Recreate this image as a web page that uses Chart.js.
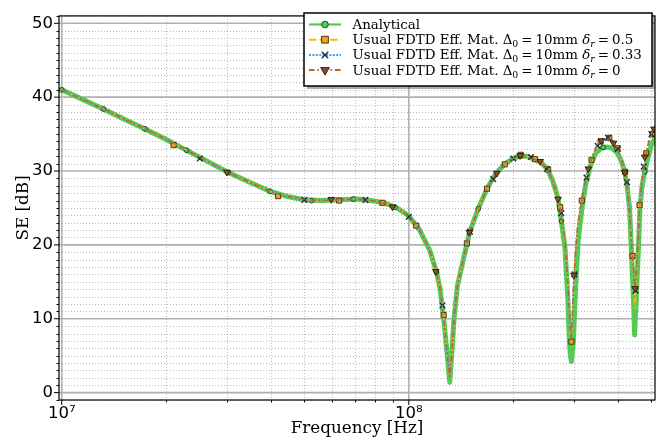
<!DOCTYPE html>
<html>
<head>
<meta charset="utf-8">
<script src="https://cdn.jsdelivr.net/npm/chart.js@4.4.0/dist/chart.umd.min.js"></script>
<style>
    html, body { margin: 0; padding: 0; background: #fff; }
    #wrap { width: 672px; height: 442px; }
</style>
</head>
<body>
<div id="wrap"><canvas id="se-chart" width="672" height="442"></canvas></div>
<script>
// Frequency grid (Hz) for the continuous curves
const freq = [
    1.000e7, 1.148e7, 1.318e7, 1.514e7, 1.738e7, 1.995e7, 2.291e7, 2.630e7, 3.020e7, 3.467e7,
    3.981e7, 4.467e7, 5.012e7, 5.623e7, 6.310e7, 7.079e7, 7.943e7, 8.710e7, 9.333e7, 1.000e8,
    1.072e8, 1.148e8, 1.202e8, 1.230e8, 1.259e8, 1.288e8, 1.312e8, 1.330e8, 1.349e8, 1.380e8,
    1.429e8, 1.496e8, 1.585e8, 1.679e8, 1.778e8, 1.884e8, 1.995e8, 2.089e8, 2.188e8, 2.291e8,
    2.399e8, 2.512e8, 2.600e8, 2.692e8, 2.754e8, 2.818e8, 2.871e8, 2.901e8, 2.921e8, 2.941e8,
    2.979e8, 3.020e8, 3.073e8, 3.162e8, 3.236e8, 3.350e8, 3.467e8, 3.589e8, 3.715e8, 3.846e8,
    3.981e8, 4.093e8, 4.188e8, 4.246e8, 4.325e8, 4.381e8, 4.440e8, 4.472e8, 4.487e8, 4.519e8,
    4.581e8, 4.634e8, 4.699e8, 4.786e8, 4.898e8, 4.989e8, 5.129e8
];

// SE [dB] on that grid
const seAnalytical = [
    41.0, 39.7, 38.4, 37.0, 35.7, 34.3, 32.8, 31.3, 29.8, 28.5,
    27.25, 26.55, 26.1, 26.0, 26.1, 26.2, 25.95, 25.5, 24.9, 23.9,
    22.1, 19.3, 16.3, 14.1, 10.2, 5.5, 1.4, 5.3, 9.9, 14.4,
    17.6, 21.7, 24.9, 27.6, 29.6, 30.9, 31.7, 32.0, 32.0, 31.6,
    31.2, 30.2, 28.6, 26.3, 23.0, 19.6, 12.8, 7.0, 5.0, 4.2,
    6.9, 13.8, 20.5, 25.3, 28.3, 31.0, 32.5, 33.1, 33.25, 33.1,
    32.5, 31.4, 29.9, 28.3, 25.0, 19.0, 12.4, 7.8, 9.5, 12.4,
    19.0, 25.0, 28.0, 29.9, 32.0, 33.4, 34.6
];
const seFdtd05 = [
    41.0, 39.7, 38.4, 37.0, 35.7, 34.3, 32.8, 31.3, 29.8, 28.5,
    27.25, 26.55, 26.1, 26.0, 26.1, 26.2, 25.95, 25.5, 24.9, 23.9,
    22.1, 19.3, 16.3, 14.1, 10.2, 5.5, 2.2, 5.3, 9.9, 14.4,
    17.6, 21.7, 24.9, 27.6, 29.6, 30.9, 31.7, 32.1, 32.0, 31.6,
    31.2, 30.2, 28.6, 26.3, 23.8, 20.5, 15.0, 10.5, 7.8, 6.6,
    13.8, 18.8, 23.0, 26.6, 28.9, 31.5, 33.2, 34.2, 34.5, 34.2,
    33.2, 31.6, 30.0, 28.4, 24.2, 20.2, 15.8, 12.2, 11.4, 14.5,
    21.0, 26.0, 28.8, 31.4, 33.7, 34.9, 36.2
];
const seFdtd033 = [
    41.0, 39.7, 38.4, 37.0, 35.7, 34.3, 32.8, 31.3, 29.8, 28.5,
    27.25, 26.55, 26.1, 26.0, 26.1, 26.2, 25.95, 25.5, 24.9, 23.9,
    22.1, 19.3, 16.3, 14.1, 10.2, 5.5, 2.2, 5.3, 9.9, 14.4,
    17.6, 21.7, 24.9, 27.6, 29.6, 30.9, 31.7, 32.1, 32.0, 31.6,
    31.2, 30.2, 28.6, 26.3, 23.8, 20.5, 15.2, 10.8, 8.4, 7.2,
    14.0, 18.8, 23.0, 26.6, 28.9, 31.5, 33.2, 34.2, 34.4, 34.2,
    33.2, 31.6, 30.0, 28.4, 24.4, 20.0, 16.5, 14.2, 13.8, 15.6,
    21.0, 26.0, 28.8, 31.4, 33.7, 34.9, 36.1
];
const seFdtd0 = [
    41.0, 39.7, 38.4, 37.0, 35.7, 34.3, 32.8, 31.3, 29.8, 28.5,
    27.25, 26.55, 26.1, 26.0, 26.1, 26.2, 25.95, 25.5, 24.9, 23.9,
    22.1, 19.3, 16.3, 14.1, 10.2, 5.5, 2.2, 5.3, 9.9, 14.4,
    17.6, 21.7, 24.9, 27.6, 29.6, 30.9, 31.7, 32.1, 32.0, 31.6,
    31.2, 30.2, 28.6, 26.3, 23.8, 20.5, 15.2, 10.8, 8.4, 7.3,
    14.0, 18.8, 23.0, 26.6, 28.9, 31.5, 33.2, 34.2, 34.4, 34.2,
    33.2, 31.6, 30.0, 28.4, 24.4, 20.2, 16.6, 14.3, 14.0, 15.6,
    21.0, 26.0, 28.8, 31.4, 33.7, 34.9, 36.1
];

// Marker positions of each series
const anaMarkFreq = [1.000e7, 1.318e7, 1.738e7, 2.291e7, 3.020e7, 3.981e7, 5.248e7, 6.918e7, 9.120e7, 1.202e8, 1.585e8, 2.089e8, 2.754e8, 3.631e8, 4.786e8];
const anaMarkSE = [41.0, 38.4, 35.7, 32.8, 29.8, 27.25, 26.0, 26.2, 25.1, 16.3, 24.9, 32.0, 23.2, 33.2, 29.9];

const fdtd05MarkFreq = [2.10e7, 4.20e7, 6.30e7, 8.40e7, 1.05e8, 1.26e8, 1.47e8, 1.68e8, 1.89e8, 2.10e8, 2.31e8, 2.52e8, 2.73e8, 2.94e8, 3.15e8, 3.36e8, 3.57e8, 3.78e8, 3.99e8, 4.20e8, 4.41e8, 4.62e8, 4.83e8, 5.04e8];
const fdtd05MarkSE = [33.5, 26.6, 26.0, 25.7, 22.6, 10.5, 20.2, 27.6, 30.9, 32.2, 31.6, 30.2, 25.1, 6.9, 26.0, 31.5, 34.0, 34.5, 33.1, 29.9, 18.5, 25.4, 32.4, 35.0];

const fdtd033MarkFreq = [2.5e7, 5.0e7, 7.5e7, 1.0e8, 1.25e8, 1.5e8, 1.75e8, 2.0e8, 2.25e8, 2.5e8, 2.75e8, 3.0e8, 3.25e8, 3.5e8, 3.75e8, 4.0e8, 4.25e8, 4.5e8, 4.75e8, 5.0e8];
const fdtd033MarkSE = [31.7, 26.1, 26.1, 23.8, 11.8, 21.8, 28.9, 31.7, 31.9, 30.3, 24.3, 16.0, 29.1, 33.4, 34.5, 33.0, 28.5, 13.8, 30.6, 35.0];

const fdtd0MarkFreq = [2.99e7, 5.98e7, 8.97e7, 1.196e8, 1.495e8, 1.794e8, 2.093e8, 2.392e8, 2.691e8, 2.99e8, 3.289e8, 3.588e8, 3.887e8, 4.186e8, 4.485e8, 4.784e8, 5.083e8];
const fdtd0MarkSE = [29.85, 26.15, 25.15, 16.4, 21.7, 29.7, 32.1, 31.3, 26.2, 15.9, 30.3, 34.1, 33.8, 29.8, 14.1, 31.9, 35.7];

// Axes
const xMin = 9.82e6, xMax = 5.12e8;
const yMin = -1, yMax = 51;
const xMajorTicks = [1e7, 1e8];
const xMinorTicks = [2e7, 3e7, 4e7, 5e7, 6e7, 7e7, 8e7, 9e7, 2e8, 3e8, 4e8, 5e8];
const yMajorTicks = [0, 10, 20, 30, 40, 50];

const legendDeltas = ['0.5', '0.33', '0'];

const GREEN = '#52cc52';
const ORANGE = '#ffb020';
const BLUE = '#3f9fff';
const BROWN = '#b06a35';

const SERIF = '"DejaVu Serif", "Liberation Serif", serif';
const SANS = '"DejaVu Sans", sans-serif';

function toPoints(xs, ys) {
    return xs.map((x, i) => ({ x: x, y: ys[i] }));
}

const SUP = { 7: '\u2077', 8: '\u2078' };

const markers = {
    ana: { pointStyle: 'circle', fill: GREEN, edge: '#1d4d1d', edgeWidth: 1, radius: 2.4, legendRadius: 3.3, rotation: 0 },
    f05: { pointStyle: 'rect', fill: '#f0a020', edge: '#3a2806', edgeWidth: 0.9, radius: 3.6, legendRadius: 4.8, rotation: 0 },
    f033: { pointStyle: 'crossRot', fill: 'rgba(0,0,0,0)', edge: '#1c2a44', edgeWidth: 1.4, radius: 4.0, legendRadius: 4.6, rotation: 0 },
    f0: { pointStyle: 'triangle', fill: '#8a5028', edge: '#2a1608', edgeWidth: 0.9, radius: 3.8, legendRadius: 5.0, rotation: 180 }
};

function lineSet(data, color, width, dash, order) {
    return {
        data: data, showLine: true, borderColor: color, borderWidth: width, borderDash: dash,
        pointRadius: 0, pointHoverRadius: 0, tension: 0, order: order,
        borderJoinStyle: 'round', borderCapStyle: width > 3 ? 'round' : 'butt'
    };
}

function markSet(data, m, order) {
    return {
        data: data, showLine: false, pointStyle: m.pointStyle, pointRadius: m.radius, pointHoverRadius: m.radius,
        pointBackgroundColor: m.fill, pointBorderColor: m.edge, pointBorderWidth: m.edgeWidth,
        pointRotation: m.rotation, order: order
    };
}

// grid, spines, tick marks and the legend box
const framePlugin = {
    id: 'frame',
    beforeDatasetsDraw(chart) {
        const { ctx, chartArea: a, scales: { x, y } } = chart;
        ctx.save();
        // minor dotted grid
        ctx.strokeStyle = 'rgba(0,0,0,0.3)';
        ctx.lineWidth = 0.9;
        ctx.setLineDash([1, 2]);
        ctx.beginPath();
        xMinorTicks.forEach(v => {
            const px = Math.round(x.getPixelForValue(v)) + 0.5;
            ctx.moveTo(px, a.top);
            ctx.lineTo(px, a.bottom);
        });
        for (let v = Math.ceil(yMin); v <= yMax; v++) {
            if (v % 10 === 0) continue;
            const py = Math.round(y.getPixelForValue(v)) + 0.5;
            ctx.moveTo(a.left, py);
            ctx.lineTo(a.right, py);
        }
        ctx.stroke();
        // major solid grid
        ctx.setLineDash([]);
        ctx.strokeStyle = '#b0b0b0';
        ctx.lineWidth = 1.6;
        ctx.beginPath();
        xMajorTicks.forEach(v => {
            const px = x.getPixelForValue(v);
            ctx.moveTo(px, a.top);
            ctx.lineTo(px, a.bottom);
        });
        yMajorTicks.forEach(v => {
            const py = y.getPixelForValue(v);
            ctx.moveTo(a.left, py);
            ctx.lineTo(a.right, py);
        });
        ctx.stroke();
        ctx.restore();
    },
    afterDatasetsDraw(chart) {
        const { ctx, chartArea: a, scales: { x, y } } = chart;
        ctx.save();
        ctx.strokeStyle = '#000';
        ctx.lineWidth = 1.2;
        ctx.strokeRect(a.left, a.top, a.right - a.left, a.bottom - a.top);
        // tick marks (outside)
        ctx.lineWidth = 1;
        ctx.beginPath();
        yMajorTicks.forEach(v => {
            const py = y.getPixelForValue(v);
            ctx.moveTo(a.left - 5, py);
            ctx.lineTo(a.left, py);
        });
        for (let v = Math.ceil(yMin); v <= yMax; v++) {
            if (v % 10 === 0) continue;
            const py = Math.round(y.getPixelForValue(v)) + 0.5;
            ctx.moveTo(a.left - 2.5, py);
            ctx.lineTo(a.left, py);
        }
        xMajorTicks.forEach(v => {
            const px = x.getPixelForValue(v);
            ctx.moveTo(px, a.bottom);
            ctx.lineTo(px, a.bottom + 5);
        });
        xMinorTicks.forEach(v => {
            const px = Math.round(x.getPixelForValue(v)) + 0.5;
            ctx.moveTo(px, a.bottom);
            ctx.lineTo(px, a.bottom + 2.5);
        });
        ctx.stroke();
        ctx.restore();
    },
    afterDraw(chart) {
        drawLegend(chart.ctx);
    }
};

function drawMarker(ctx, m, px, py) {
    ctx.save();
    ctx.fillStyle = m.fill;
    ctx.strokeStyle = m.edge;
    ctx.lineWidth = m.edgeWidth;
    Chart.helpers.drawPoint(ctx, { pointStyle: m.pointStyle, radius: m.legendRadius, rotation: m.rotation, borderWidth: m.edgeWidth }, px, py);
    ctx.restore();
}

// draws text pieces one after another (normal, italic, subscript)
function drawRich(ctx, parts, x0, baseline) {
    let cx = x0;
    parts.forEach(p => {
        const size = p.sub ? 9.4 : 13.4;
        ctx.font = (p.it ? 'italic ' : '') + size + 'px ' + SERIF;
        cx += p.pre || 0;
        ctx.fillText(p.t, cx, baseline + (p.sub ? 3 : 0));
        cx += ctx.measureText(p.t).width + (p.post || 0);
    });
}

function drawLegend(ctx) {
    const bx = 304, by = 13, bw = 348, bh = 73;
    ctx.save();
    ctx.fillStyle = 'rgba(0,0,0,0.33)';
    ctx.fillRect(bx + 3, by + 3, bw, bh);
    ctx.fillStyle = '#fff';
    ctx.fillRect(bx, by, bw, bh);
    ctx.strokeStyle = '#000';
    ctx.lineWidth = 1.5;
    ctx.strokeRect(bx, by, bw, bh);

    const rows = [
        { color: GREEN, lw: 2.2, dash: [], m: markers.ana, parts: [{ t: 'Analytical' }] }
    ];
    const fdtdStyles = [
        { color: ORANGE, lw: 2, dash: [7.4, 3.2], m: markers.f05 },
        { color: BLUE, lw: 2, dash: [2, 1.4], m: markers.f033 },
        { color: BROWN, lw: 2, dash: [5.5, 3, 1.5, 3], m: markers.f0 }
    ];
    fdtdStyles.forEach((s, i) => {
        rows.push(Object.assign({}, s, {
            parts: [
                { t: 'Usual FDTD Eff. Mat. ' },
                { t: '\u0394' }, { t: '0', sub: true, post: 3 },
                { t: '=', post: 3 },
                { t: '10mm ' },
                { t: '\u03B4', it: true }, { t: 'r', it: true, sub: true, post: 3 },
                { t: '=', post: 3 },
                { t: legendDeltas[i] }
            ]
        }));
    });

    ctx.fillStyle = '#000';
    ctx.textBaseline = 'alphabetic';
    rows.forEach((r, i) => {
        const cy = 24.5 + i * 15.2;
        ctx.save();
        ctx.strokeStyle = r.color;
        ctx.lineWidth = r.lw;
        ctx.setLineDash(r.dash);
        ctx.beginPath();
        ctx.moveTo(309, cy);
        ctx.lineTo(341, cy);
        ctx.stroke();
        ctx.restore();
        drawMarker(ctx, r.m, 325, cy);
        ctx.fillStyle = '#000';
        drawRich(ctx, r.parts, 352.5, cy + 4.5);
    });
    ctx.restore();
}

const ctx = document.getElementById('se-chart');

new Chart(ctx, {
    type: 'scatter',
    data: {
        datasets: [
            lineSet(toPoints(freq, seAnalytical), GREEN, 5, [], 8),
            markSet(toPoints(anaMarkFreq, anaMarkSE), markers.ana, 7),
            lineSet(toPoints(freq, seFdtd05), ORANGE, 1.6, [5.5, 2.4], 6),
            markSet(toPoints(fdtd05MarkFreq, fdtd05MarkSE), markers.f05, 5),
            lineSet(toPoints(freq, seFdtd033), BLUE, 1.6, [1.6, 2.6], 4),
            markSet(toPoints(fdtd033MarkFreq, fdtd033MarkSE), markers.f033, 3),
            lineSet(toPoints(freq, seFdtd0), BROWN, 1.6, [5.5, 2.4, 1.6, 2.4], 2),
            markSet(toPoints(fdtd0MarkFreq, fdtd0MarkSE), markers.f0, 1)
        ]
    },
    options: {
        responsive: false,
        animation: false,
        events: [],
        layout: { padding: { left: 0, right: 17, top: 6, bottom: 0 } },
        plugins: {
            legend: { display: false },
            tooltip: { enabled: false }
        },
        scales: {
            x: {
                type: 'logarithmic',
                min: xMin,
                max: xMax,
                grid: { display: false, drawTicks: false },
                border: { display: false },
                afterBuildTicks: scale => { scale.ticks = xMajorTicks.map(v => ({ value: v })); },
                afterFit: scale => { scale.height = 42; },
                ticks: {
                    autoSkip: false,
                    maxRotation: 0,
                    padding: 4,
                    color: '#000',
                    font: { family: SANS, size: 16.5 },
                    callback: v => '10' + SUP[Math.round(Math.log10(v))]
                },
                title: {
                    display: true,
                    text: 'Frequency [Hz]',
                    color: '#000',
                    font: { family: SERIF, size: 16.8 },
                    padding: { top: 0, bottom: 3.4 }
                }
            },
            y: {
                type: 'linear',
                min: yMin,
                max: yMax,
                grid: { display: false, drawTicks: false },
                border: { display: false },
                afterBuildTicks: scale => { scale.ticks = yMajorTicks.map(v => ({ value: v })); },
                afterFit: scale => { scale.width = 59; },
                ticks: {
                    autoSkip: false,
                    padding: 6,
                    color: '#000',
                    font: { family: SANS, size: 16.5 },
                    callback: v => String(v)
                },
                title: {
                    display: true,
                    text: 'SE [dB]',
                    color: '#000',
                    font: { family: SERIF, size: 16.8 },
                    padding: { top: 14, bottom: 0 }
                }
            }
        }
    },
    plugins: [framePlugin]
});
</script>
</body>
</html>
